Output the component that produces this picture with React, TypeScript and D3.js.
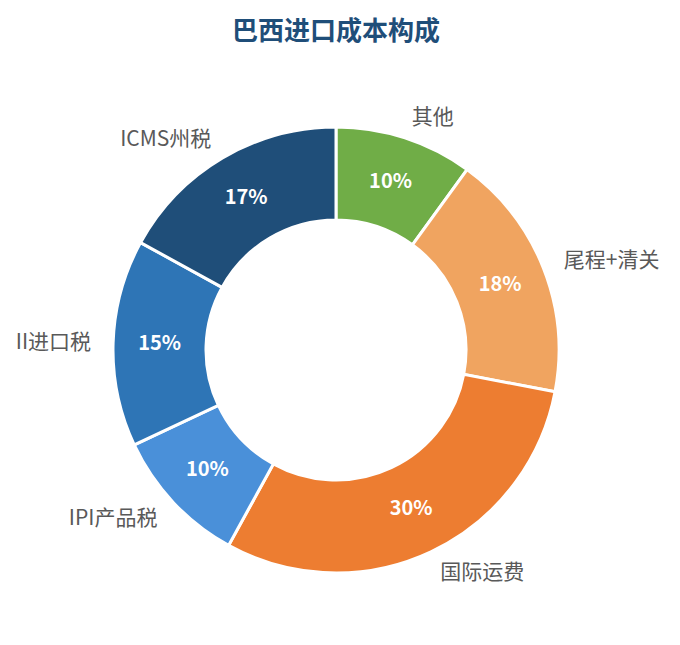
import { FC } from "react";
import * as d3 from "d3";

// slices, clockwise from 12 o'clock
const categories = ["其他", "尾程+清关", "国际运费", "IPI产品税", "II进口税", "ICMS州税"];
const values = [10, 18, 30, 10, 15, 17];
const colors = ["#70AD47", "#F0A460", "#ED7D31", "#4A90D9", "#2E75B6", "#1F4E79"];

const title = "巴西进口成本构成";

const App: FC = () => {
    const width = 680, height = 645;
    const cx = 336, cy = 350;
    const outerR = 223, innerR = 130, labelR = 245;

    const pie = d3.pie<number>().sort(null).value(d => d);
    const arcs = pie(values);

    const arc = d3.arc<d3.PieArcDatum<number>>()
        .innerRadius(innerR)
        .outerRadius(outerR);

    const midArc = d3.arc<d3.PieArcDatum<number>>()
        .innerRadius((innerR + outerR) / 2)
        .outerRadius((innerR + outerR) / 2);

    const total = d3.sum(values);
    const font = "'Noto Sans CJK SC', 'Noto Sans', sans-serif";

    return (
        <svg width={width} height={height} style={{ position: "absolute", left: 0, top: 0 }}>
            <rect width={width} height={height} fill="#fff" />
            <text x={336} y={28} textAnchor="middle" dominantBaseline="central"
                fontFamily={font} fontSize={26} fontWeight="bold" fill="#1F4E79">
                {title}
            </text>
            <g transform={"translate(" + cx + "," + cy + ")"}>
                {arcs.map((a, i) => (
                    <path key={categories[i]} d={arc(a) || ""} fill={colors[i]}
                        stroke="#fff" strokeWidth={3} />
                ))}
                {arcs.map((a, i) => {
                    const [x, y] = midArc.centroid(a);
                    return (
                        <text key={"p" + i} x={x} y={y - 3} textAnchor="middle" dominantBaseline="central"
                            fontFamily={font} fontSize={20} fontWeight="bold" fill="#fff">
                            {Math.round(values[i] / total * 100) + "%"}
                        </text>
                    );
                })}
                {arcs.map((a, i) => {
                    const mid = (a.startAngle + a.endAngle) / 2;
                    const x = labelR * Math.sin(mid);
                    const y = -labelR * Math.cos(mid);
                    return (
                        <text key={"l" + i} x={x} y={y - 2}
                            textAnchor={x >= 0 ? "start" : "end"} dominantBaseline="central"
                            fontFamily={font} fontSize={21} fill="#595959">
                            {categories[i]}
                        </text>
                    );
                })}
            </g>
        </svg>
    );
};

export default App;
